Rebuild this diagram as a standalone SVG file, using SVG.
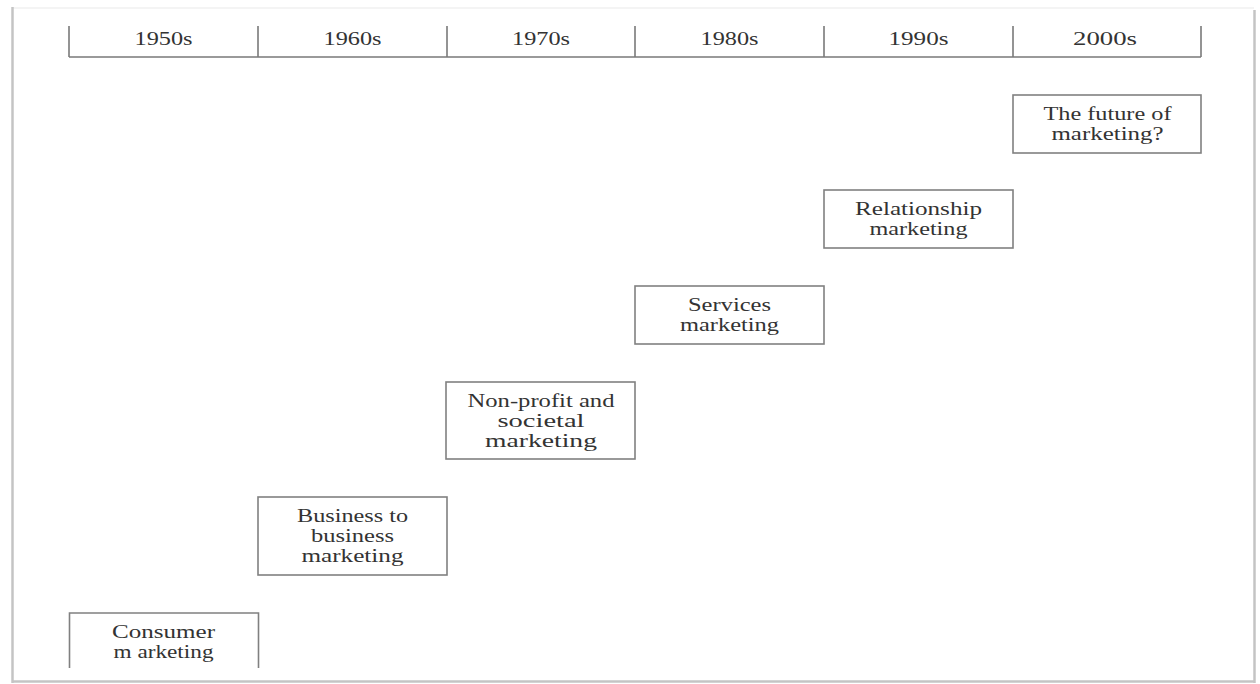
<svg xmlns="http://www.w3.org/2000/svg" width="1260" height="684" viewBox="0 0 1260 684">
<style>
text{font-family:"Liberation Serif","DejaVu Serif","Times New Roman",serif;font-size:19px;fill:#333;text-anchor:middle}
.box{fill:#fff;stroke:#808080;stroke-width:1.6}
.axis{stroke:#7a7a7a;stroke-width:1.6;fill:none}
.frame{stroke:#c4c4c4;stroke-width:2.5;fill:none}
</style>
<rect width="1260" height="684" fill="#fff"/>
<g id="frame">
<line x1="12" y1="8" x2="1254" y2="8" stroke="#f0f0f0" stroke-width="1.5"/>
<line class="frame" x1="12.5" y1="7" x2="12.5" y2="683"/>
<line class="frame" x1="12" y1="681.5" x2="1255" y2="681.5"/>
<line class="frame" x1="1254.5" y1="10" x2="1254.5" y2="683"/>
</g>
<g id="axis">
<path class="axis" d="M69 57H1201M69 26V57M258 26V57M447 26V57M635 26V57M824 26V57M1013 26V57M1201 26V57"/>
<text x="163.5" y="45" textLength="58" lengthAdjust="spacingAndGlyphs">1950s</text>
<text x="352.5" y="45" textLength="58" lengthAdjust="spacingAndGlyphs">1960s</text>
<text x="541" y="45" textLength="58" lengthAdjust="spacingAndGlyphs">1970s</text>
<text x="729.5" y="45" textLength="58" lengthAdjust="spacingAndGlyphs">1980s</text>
<text x="918.5" y="45" textLength="60" lengthAdjust="spacingAndGlyphs">1990s</text>
<text x="1105" y="45" textLength="64" lengthAdjust="spacingAndGlyphs">2000s</text>
</g>
<g id="connectors"></g>
<g id="future">
<rect class="box" x="1013" y="95" width="188" height="58"/>
<text x="1107.5" y="120" textLength="128" lengthAdjust="spacingAndGlyphs">The future of</text>
<text x="1107.5" y="140" textLength="112" lengthAdjust="spacingAndGlyphs">marketing?</text>
</g>
<g id="relationship">
<rect class="box" x="824" y="190" width="189" height="58"/>
<text x="918.5" y="215" textLength="127" lengthAdjust="spacingAndGlyphs">Relationship</text>
<text x="918.5" y="235" textLength="98" lengthAdjust="spacingAndGlyphs">marketing</text>
</g>
<g id="services">
<rect class="box" x="635" y="286" width="189" height="58"/>
<text x="729.5" y="311" textLength="83" lengthAdjust="spacingAndGlyphs">Services</text>
<text x="729.5" y="331" textLength="99" lengthAdjust="spacingAndGlyphs">marketing</text>
</g>
<g id="nonprofit">
<rect class="box" x="446" y="382" width="189" height="77"/>
<text x="541" y="407" textLength="147" lengthAdjust="spacingAndGlyphs">Non-profit and</text>
<text x="541" y="427" textLength="87" lengthAdjust="spacingAndGlyphs">societal</text>
<text x="541" y="447" textLength="112" lengthAdjust="spacingAndGlyphs">marketing</text>
</g>
<g id="business">
<rect class="box" x="258" y="497" width="189" height="78"/>
<text x="352.5" y="522" textLength="111" lengthAdjust="spacingAndGlyphs">Business to</text>
<text x="352.5" y="542" textLength="83" lengthAdjust="spacingAndGlyphs">business</text>
<text x="352.5" y="562" textLength="102" lengthAdjust="spacingAndGlyphs">marketing</text>
</g>
<g id="consumer">
<path class="box" fill="none" d="M69.5 668V613H258.5V668"/>
<text x="163.5" y="638" textLength="103" lengthAdjust="spacingAndGlyphs">Consumer</text>
<text x="163.5" y="658" textLength="100" lengthAdjust="spacingAndGlyphs">m arketing</text>
</g>
</svg>
